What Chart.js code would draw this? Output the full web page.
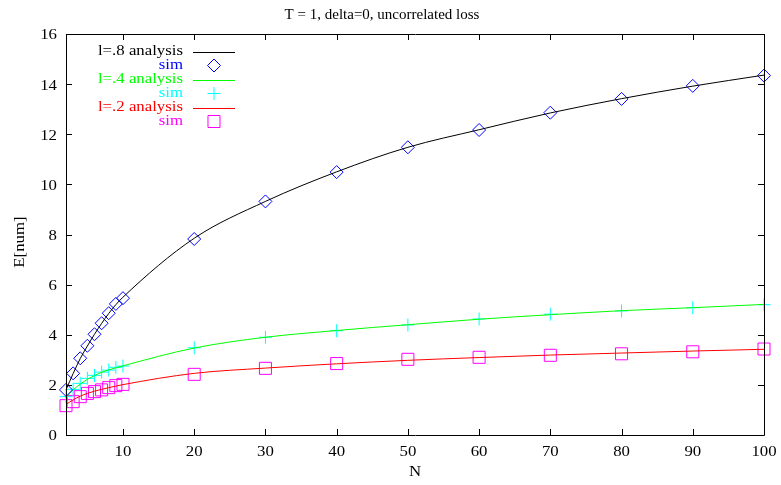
<!DOCTYPE html>
<html>
<head>
<meta charset="utf-8">
<title>E[num] vs N</title>
<script src="https://cdn.jsdelivr.net/npm/chart.js@4/dist/chart.umd.min.js"></script>
<style>
  html, body { margin: 0; padding: 0; background: #fff; }
  #wrap { width: 781px; height: 485px; }
</style>
</head>
<body>
<div id="wrap"><canvas id="lossChart" width="781" height="485"></canvas></div>
<script>
// N values where both analysis and simulation were evaluated
const nValues = [2, 3, 4, 5, 6, 7, 8, 9, 10, 20, 30, 40, 50, 60, 70, 80, 90, 100];

// l = .8
const l8Analysis = [1.80, 2.45, 3.05, 3.55, 4.02, 4.45, 4.85, 5.20, 5.50, 7.85, 9.32, 10.50, 11.48, 12.18, 12.85, 13.42, 13.92, 14.36];
const l8Sim      = [1.80, 2.46, 3.06, 3.56, 4.02, 4.46, 4.86, 5.23, 5.46, 7.82, 9.32, 10.49, 11.48, 12.17, 12.86, 13.41, 13.93, 14.34];

// l = .4
const l4Analysis = [1.50, 1.80, 2.03, 2.22, 2.37, 2.50, 2.60, 2.68, 2.76, 3.47, 3.90, 4.17, 4.40, 4.62, 4.80, 4.96, 5.08, 5.21];
const l4Sim      = [1.53, 1.82, 2.06, 2.26, 2.38, 2.51, 2.59, 2.70, 2.75, 3.48, 3.90, 4.16, 4.39, 4.63, 4.82, 4.95, 5.08, 5.20];

// l = .2
const l2Analysis = [1.22, 1.40, 1.55, 1.66, 1.75, 1.82, 1.89, 1.95, 2.01, 2.46, 2.67, 2.84, 2.98, 3.09, 3.19, 3.27, 3.35, 3.42];
const l2Sim      = [1.17, 1.33, 1.53, 1.66, 1.73, 1.80, 1.89, 1.97, 2.02, 2.42, 2.66, 2.85, 3.02, 3.10, 3.18, 3.24, 3.32, 3.43];

const xTickValues = [10, 20, 30, 40, 50, 60, 70, 80, 90, 100];
const yTickValues = [0, 2, 4, 6, 8, 10, 12, 14, 16];

const FONT = "'Liberation Serif', 'DejaVu Serif', serif";
const TEXT_PX = 15;
const WIDEN = 1.12; // the serif face used here runs wide

function pts(ys) {
  return nValues.map((n, i) => ({ x: n, y: ys[i] }));
}

function analysis(label, ys, color) {
  return {
    label: label,
    data: pts(ys),
    borderColor: color,
    borderWidth: 1,
    pointRadius: 0,
    cubicInterpolationMode: "monotone",
    clip: false,
  };
}

function sim(ys, color, style, r) {
  return {
    label: "sim",
    data: pts(ys),
    showLine: false,
    pointStyle: style,
    pointRadius: r,
    pointBorderColor: color,
    pointBackgroundColor: "rgba(0,0,0,0)",
    pointBorderWidth: 1,
    borderColor: color,
    clip: false,
  };
}

// draw text widened horizontally around its anchor
function wideText(ctx, text, x, y, align, rot) {
  ctx.save();
  ctx.translate(x, y);
  if (rot) ctx.rotate(rot);
  ctx.scale(WIDEN, 1);
  ctx.textAlign = align;
  ctx.textBaseline = "middle";
  ctx.fillText(text, 0, 0);
  ctx.restore();
}

// gnuplot-like frame: border box, inward ticks on all four sides, labels
const framePlugin = {
  id: "frame",
  afterDraw(chart) {
    const { ctx, chartArea: a, scales } = chart;
    ctx.save();
    ctx.strokeStyle = "#000";
    ctx.lineWidth = 1;
    ctx.beginPath();
    ctx.rect(a.left + 0.5, a.top + 0.5, a.right - a.left, a.bottom - a.top);
    const len = 6;
    xTickValues.forEach((v) => {
      const px = Math.round(scales.x.getPixelForValue(v)) + 0.5;
      ctx.moveTo(px, a.bottom);
      ctx.lineTo(px, a.bottom - len);
      ctx.moveTo(px, a.top);
      ctx.lineTo(px, a.top + len);
    });
    yTickValues.forEach((v) => {
      const py = Math.round(scales.y.getPixelForValue(v)) + 0.5;
      ctx.moveTo(a.left, py);
      ctx.lineTo(a.left + len, py);
      ctx.moveTo(a.right, py);
      ctx.lineTo(a.right - len, py);
    });
    ctx.stroke();

    ctx.fillStyle = "#000";
    ctx.font = TEXT_PX + "px " + FONT;
    xTickValues.forEach((v) => {
      wideText(ctx, String(v), scales.x.getPixelForValue(v), a.bottom + 17, "center");
    });
    yTickValues.forEach((v) => {
      wideText(ctx, String(v), a.left - 9, scales.y.getPixelForValue(v) + 1.5, "right");
    });
    wideText(ctx, "N", (a.left + a.right) / 2, 472.5, "center");
    wideText(ctx, "E[num]", 20, 242, "center", -Math.PI / 2);
    ctx.restore();
  },
};

// key in the upper left: text right-aligned, sample to its right
const keyPlugin = {
  id: "key",
  afterDatasetsDraw(chart) {
    const ctx = chart.ctx;
    const textRight = 183, lineL = 193, lineR = 235, markX = 214;
    let y = 51.5;
    ctx.save();
    ctx.font = TEXT_PX + "px " + FONT;
    chart.data.datasets.forEach((ds) => {
      ctx.fillStyle = ds.borderColor;
      wideText(ctx, ds.label, textRight, y, "right");
      ctx.strokeStyle = ds.borderColor;
      ctx.fillStyle = "rgba(0,0,0,0)";
      ctx.lineWidth = 1;
      if (ds.showLine === false) {
        Chart.helpers.drawPoint(ctx, {
          pointStyle: ds.pointStyle,
          radius: ds.pointRadius,
          rotation: 0,
          borderWidth: 1,
        }, markX, y);
      } else {
        ctx.beginPath();
        ctx.moveTo(lineL, Math.round(y) + 0.5);
        ctx.lineTo(lineR, Math.round(y) + 0.5);
        ctx.stroke();
      }
      y += 14;
    });
    ctx.restore();
  },
};

const ctx = document.getElementById("lossChart").getContext("2d");
const lossChart = new Chart(ctx, {
  type: "line",
  data: {
    datasets: [
      analysis("l=.8 analysis", l8Analysis, "#000000"),
      sim(l8Sim, "#0000ff", "rectRot", 6.5),
      analysis("l=.4 analysis", l4Analysis, "#00ff00"),
      sim(l4Sim, "#00ffff", "cross", 6.5),
      analysis("l=.2 analysis", l2Analysis, "#ff0000"),
      sim(l2Sim, "#ff00ff", "rect", 8.5),
    ],
  },
  options: {
    responsive: false,
    animation: false,
    devicePixelRatio: 1,
    layout: { padding: { left: 0, right: 17, top: 0, bottom: 0 } },
    plugins: {
      legend: { display: false },
      tooltip: { enabled: false },
      title: {
        display: true,
        text: "T = 1, delta=0, uncorrelated loss",
        color: "#000",
        font: { family: FONT, size: 15, weight: "normal" },
        padding: { top: 6, bottom: 10 },
      },
    },
    scales: {
      x: {
        type: "linear",
        min: 2,
        max: 100,
        afterFit: (s) => { s.height = 50; },
        grid: { display: false, drawTicks: false },
        border: { display: false },
        ticks: { display: false },
      },
      y: {
        type: "linear",
        min: 0,
        max: 16,
        afterFit: (s) => { s.width = 66; },
        grid: { display: false, drawTicks: false },
        border: { display: false },
        ticks: { display: false },
      },
    },
  },
  plugins: [framePlugin, keyPlugin],
});
</script>
</body>
</html>
